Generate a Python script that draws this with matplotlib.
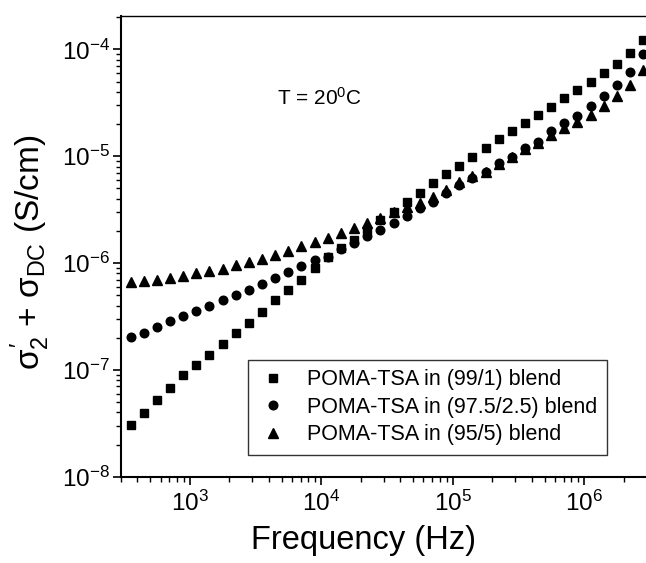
import matplotlib
matplotlib.use('Agg')
import matplotlib.pyplot as plt
from matplotlib.ticker import LogLocator, LogFormatterMathtext, NullFormatter

plt.rcParams['font.family'] = ['Liberation Sans', 'DejaVu Sans']
plt.rcParams['mathtext.fontset'] = 'custom'
plt.rcParams['mathtext.rm'] = 'Liberation Sans'
plt.rcParams['mathtext.it'] = 'Liberation Sans'
plt.rcParams['mathtext.bf'] = 'Liberation Sans:bold'
plt.rcParams['axes.unicode_minus'] = False

# frequencia (Hz)
freq = [355, 447, 562, 708, 891, 1120, 1410, 1780, 2240, 2820,
        3550, 4470, 5620, 7080, 8910, 11200, 14100, 17800, 22400, 28200,
        35500, 44700, 56200, 70800, 89100, 1.12e5, 1.41e5, 1.78e5, 2.24e5, 2.82e5,
        3.55e5, 4.47e5, 5.62e5, 7.08e5, 8.91e5, 1.12e6, 1.41e6, 1.78e6, 2.24e6, 2.82e6]

# POMA-TSA (99/1)
sig_99 = [3.05e-8, 3.97e-8, 5.23e-8, 6.81e-8, 8.96e-8, 1.12e-7, 1.38e-7, 1.73e-7, 2.23e-7, 2.72e-7,
          3.52e-7, 4.47e-7, 5.60e-7, 6.95e-7, 9.00e-7, 1.13e-6, 1.37e-6, 1.66e-6, 2.04e-6, 2.53e-6,
          3.03e-6, 3.71e-6, 4.56e-6, 5.59e-6, 6.78e-6, 8.17e-6, 9.92e-6, 1.20e-5, 1.44e-5, 1.72e-5,
          2.06e-5, 2.44e-5, 2.87e-5, 3.48e-5, 4.15e-5, 4.99e-5, 6.03e-5, 7.28e-5, 9.21e-5, 1.22e-4]

# POMA-TSA (97.5/2.5)
sig_975 = [2.05e-7, 2.23e-7, 2.54e-7, 2.85e-7, 3.18e-7, 3.58e-7, 3.99e-7, 4.48e-7, 5.03e-7, 5.64e-7,
           6.41e-7, 7.25e-7, 8.25e-7, 9.39e-7, 1.07e-6, 1.15e-6, 1.36e-6, 1.55e-6, 1.79e-6, 2.04e-6,
           2.36e-6, 2.76e-6, 3.26e-6, 3.76e-6, 4.50e-6, 5.39e-6, 6.26e-6, 7.18e-6, 8.60e-6, 9.92e-6,
           1.19e-5, 1.37e-5, 1.72e-5, 2.04e-5, 2.40e-5, 2.96e-5, 3.67e-5, 4.65e-5, 6.20e-5, 9.02e-5]

# POMA-TSA (95/5)
sig_95 = [6.61e-7, 6.80e-7, 6.99e-7, 7.30e-7, 7.57e-7, 8.02e-7, 8.38e-7, 8.87e-7, 9.53e-7, 1.02e-6,
          1.09e-6, 1.19e-6, 1.29e-6, 1.43e-6, 1.59e-6, 1.73e-6, 1.93e-6, 2.12e-6, 2.36e-6, 2.64e-6,
          3.01e-6, 3.35e-6, 3.63e-6, 4.18e-6, 4.84e-6, 5.78e-6, 6.54e-6, 7.18e-6, 8.47e-6, 9.92e-6,
          1.16e-5, 1.32e-5, 1.58e-5, 1.83e-5, 2.08e-5, 2.44e-5, 2.96e-5, 3.67e-5, 4.65e-5, 6.43e-5]

etiquetas = ['POMA-TSA in (99/1) blend',
             'POMA-TSA in (97.5/2.5) blend',
             'POMA-TSA in (95/5) blend']

fig = plt.figure(figsize=(6.46, 5.63), dpi=100)
ax = fig.add_axes([0.1873, 0.1533, 0.825, 0.8188])

ax.plot(freq, sig_99, 's', color='black', markersize=5.4, linestyle='none', label=etiquetas[0])
ax.plot(freq, sig_975, 'o', color='black', markersize=6.2, linestyle='none', label=etiquetas[1])
ax.plot(freq, sig_95, '^', color='black', markersize=6.7, linestyle='none', label=etiquetas[2])

ax.set_xscale('log')
ax.set_yscale('log')
ax.set_xlim(300, 3.4e6)
ax.set_ylim(1e-8, 2.07e-4)

ax.xaxis.set_major_locator(LogLocator(base=10, numticks=10))
ax.xaxis.set_minor_locator(LogLocator(base=10, subs=range(2, 10), numticks=20))
ax.yaxis.set_major_locator(LogLocator(base=10, numticks=10))
ax.yaxis.set_minor_locator(LogLocator(base=10, subs=range(2, 10), numticks=20))
ax.xaxis.set_major_formatter(LogFormatterMathtext())
ax.yaxis.set_major_formatter(LogFormatterMathtext())
ax.xaxis.set_minor_formatter(NullFormatter())
ax.yaxis.set_minor_formatter(NullFormatter())

ax.tick_params(which='major', direction='out', length=6, width=1.2, labelsize=17.5)
ax.tick_params(which='minor', direction='out', length=3.5, width=1.0)
ax.tick_params(axis='x', pad=4)
ax.tick_params(axis='y', pad=2)
ax.tick_params(top=False, right=False)

for s in ax.spines.values():
    s.set_linewidth(1.5)
ax.spines['top'].set_linewidth(1.0)

ax.text(0.293, 0.821, r'T = 20$^{0}$C', transform=ax.transAxes, fontsize=15,
        ha='left', va='center')

leg = ax.legend(loc='lower left', bbox_to_anchor=(0.238, 0.047), borderaxespad=0,
                fontsize=15.5, frameon=True, fancybox=False, edgecolor='black',
                handletextpad=0.9, labelspacing=0.3, borderpad=0.45, handlelength=1.4)
leg.get_frame().set_linewidth(1.0)

fig.text(364 / 646, 1 - 540 / 563, 'Frequency (Hz)', fontsize=23.5, ha='center', va='center')
fig.text(30 / 646, 1 - 252 / 563, r'$\sigma_2^{\prime}$ + $\sigma_{DC}$ (S/cm)', fontsize=24,
         rotation=90, ha='center', va='center')

fig.savefig('out.png', dpi=100)
